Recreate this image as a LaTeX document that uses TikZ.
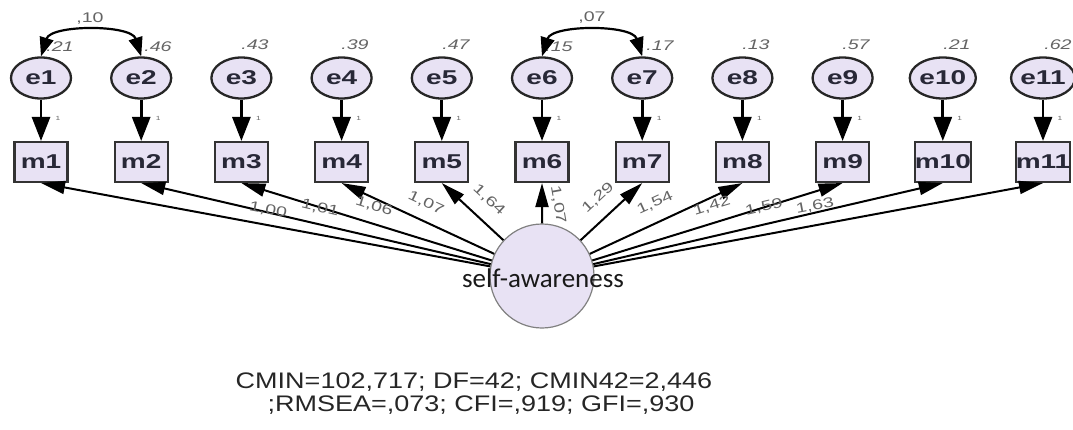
\documentclass[tikz,border=0pt]{standalone}
\usepackage{fontspec}
\setmainfont{Liberation Sans}
\newfontfamily\wide[FakeStretch=1.4]{Liberation Sans}
\newfontfamily\statfont[FakeStretch=1.2]{Liberation Sans}
\newfontfamily\calib{Carlito}
\usetikzlibrary{arrows.meta,shapes.geometric}
\definecolor{lav}{RGB}{232,226,244}
\definecolor{txt}{RGB}{40,40,55}
\definecolor{lab}{RGB}{100,100,100}
\begin{document}
\begin{tikzpicture}[x=1pt,y=-1pt,
  evar/.style={ellipse, draw=black!85, line width=2.3pt, fill=lav, minimum width=60pt, minimum height=41pt, inner sep=0pt, text=txt, font=\wide\bfseries\fontsize{20}{20}\selectfont},
  mbox/.style={rectangle, draw=black!80, line width=2.1pt, fill=lav, minimum width=53pt, minimum height=40pt, inner sep=0pt, text=txt, font=\wide\bfseries\fontsize{20}{20}\selectfont},
  latent/.style={circle, draw=black!50, line width=1.2pt, fill=lav, minimum size=104pt, inner sep=0pt},
  varlab/.style={font=\wide\itshape\fontsize{14}{14}\selectfont, text=lab, inner sep=0pt},
  wlab/.style={font=\wide\fontsize{14}{14}\selectfont, text=lab, inner sep=0pt},
  onelab/.style={font=\wide\fontsize{6}{6}\selectfont, text=lab, inner sep=0pt},
  errarrow/.style={line width=2.8pt, -{Triangle[length=24pt,width=18pt]}},
  loadarrow/.style={line width=2pt, black, -{Triangle[length=24pt,width=13pt]}},
  corr/.style={line width=2.2pt, {Triangle[length=19pt,width=14pt]}-{Triangle[length=19pt,width=14pt]}},
  stat/.style={font=\statfont\fontsize{22.5}{22.5}\selectfont, text=black!85, inner sep=0pt}
]
\useasboundingbox (0,0) rectangle (1073,429);

% variance labels (drawn first, arrowheads may cover them)
\node[varlab] (v1) at (60,47) {.21};
\node[varlab] (v2) at (158,47) {.46};
\node[varlab] (v3) at (255,45) {.43};
\node[varlab] (v4) at (355,45) {.39};
\node[varlab] (v5) at (456,45) {.47};
\node[varlab] (v6) at (559,47) {.15};
\node[varlab] (v7) at (660,46) {.17};
\node[varlab] (v8) at (756,45) {.13};
\node[varlab] (v9) at (856,45) {.57};
\node[varlab] (v10) at (957,45) {.21};
\node[varlab] (v11) at (1058,45) {.62};

% error terms and indicators
\foreach \i in {1,...,11}{
  \pgfmathsetmacro{\xx}{41+100.2*(\i-1)}
  \node[evar] (e\i) at (\xx,78) {e\i};
  \node[mbox] (m\i) at (\xx,162) {m\i};
  \draw[errarrow] (e\i) -- (m\i);
  \node[onelab] (one\i) at (\xx+17,118) {1};
}

% correlations
\draw[corr] (e1.north) .. controls +(10,-32) and +(-10,-32) .. (e2.north);
\draw[corr] (e6.north) .. controls +(10,-32) and +(-10,-32) .. (e7.north);
\node[wlab] (c12) at (90,19) {,10};
\node[wlab] (c67) at (592,18) {,07};

% latent
\node[latent] (L) at (542,276) {};
\foreach \i in {1,...,11}{
  \draw[loadarrow] (L) -- (m\i.south);
}
\node[font=\calib\fontsize{27}{27}\selectfont, text=black!90, inner sep=0pt] (Lt) at (543,278) {self-awareness};

% loading labels
\node[wlab, rotate=-10.5] (w1) at (268,210) {1,00};
\node[wlab, rotate=-13.1] (w2) at (320,208) {1,01};
\node[wlab, rotate=-17.2] (w3) at (374,206) {1,06};
\node[wlab, rotate=-24.9] (w4) at (426,203) {1,07};
\node[wlab, rotate=-42.9] (w5) at (489,200) {1,64};
\node[wlab, rotate=-80] (w6) at (558,205) {1,07};
\node[wlab, rotate=42.9] (w7) at (598,198) {1,29};
\node[wlab, rotate=24.9] (w8) at (655,203) {1,54};
\node[wlab, rotate=17.2] (w9) at (712,206) {1,42};
\node[wlab, rotate=13.1] (w10) at (764,207) {1,59};
\node[wlab, rotate=10.5] (w11) at (815,206) {1,63};

% fit statistics
\node[stat] (s1) at (474,382) {CMIN=102,717; DF=42; CMIN42=2,446};
\node[stat] (s2) at (481,405) {;RMSEA=,073; CFI=,919; GFI=,930};
\end{tikzpicture}
\end{document}
